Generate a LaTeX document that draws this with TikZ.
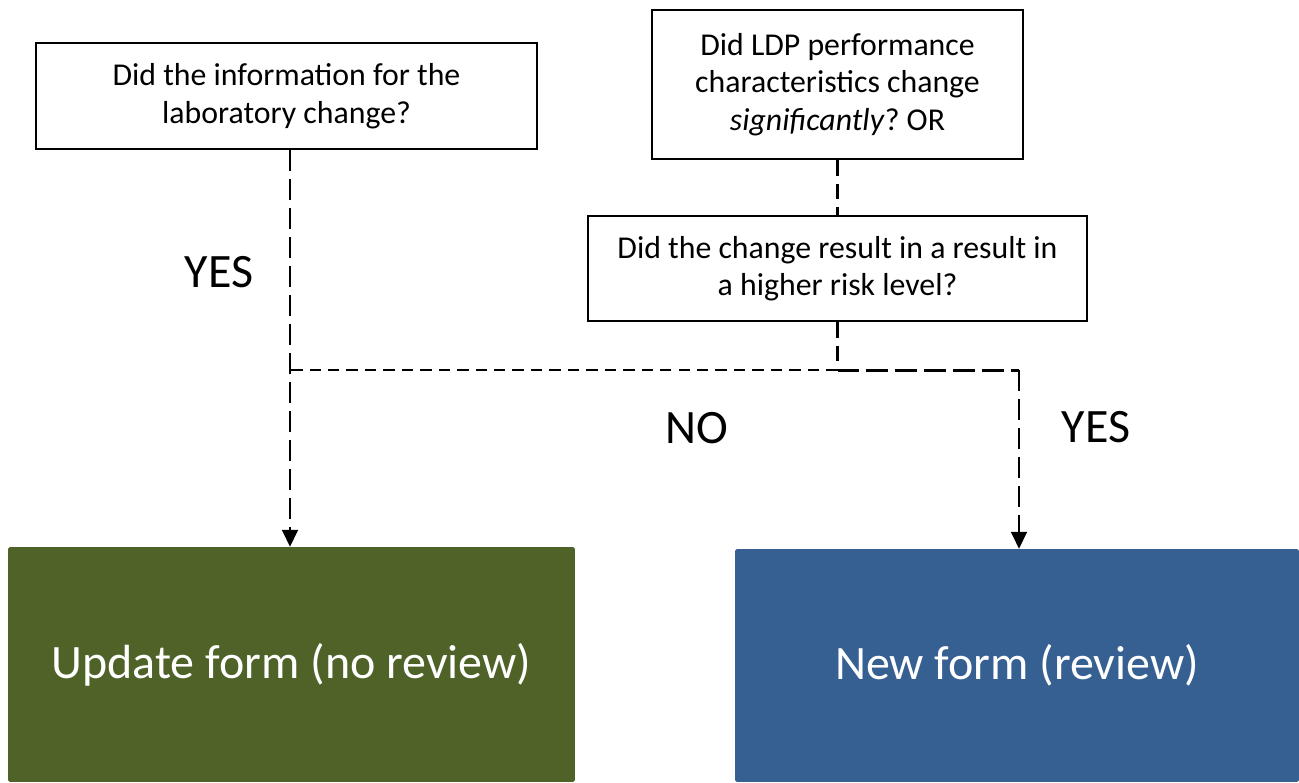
\documentclass[tikz,border=0pt]{standalone}
\usepackage{fontspec}
\setmainfont{Carlito}
\usepackage{tikz}
\usetikzlibrary{positioning,calc,arrows.meta}

\definecolor{updGreen}{HTML}{4F6228}
\definecolor{newBlue}{HTML}{366092}
\frenchspacing

\begin{document}
\begin{tikzpicture}[x=0.02cm,y=-0.02cm,
        question/.style={draw=black,line width=1.1pt,align=center,inner sep=0pt,
            font=\fontsize{18.1}{21.4}\selectfont},
        outcome/.style={fill=#1,draw=none,rounded corners=1pt,inner sep=0pt,
            text=white,font=\fontsize{27.3}{32}\selectfont},
        answer/.style={font=\fontsize{27.3}{32}\selectfont},
        flow/.style={line width=1.2pt,dash pattern=on 12pt off 4.5pt},
        flowfine/.style={line width=1.2pt,dash pattern=on 6.5pt off 4pt},
        tip/.style={-{Triangle[width=9pt,length=9.5pt]}}
    ]
    \useasboundingbox (0,0) rectangle (1299,782);

    % questions
    \node[question,minimum width=10.02cm,minimum height=2.12cm] (qLab) at (286.5,96)
        {Did the information for the\\laboratory change?};
    \node[question,minimum width=7.42cm,minimum height=2.98cm] (qLdp) at (837.5,84.5)
        {Did LDP performance\\characteristics change\\\textit{significantly}? OR};
    \node[question,minimum width=9.98cm,minimum height=2.10cm] (qRisk) at (837.5,268.5)
        {Did the change result in a result in\\a higher risk level?};

    % outcomes
    \node[outcome=updGreen,minimum width=11.34cm,minimum height=4.7cm] (upd) at (291.5,664.5)
        {Update form (no review)};
    \node[outcome=newBlue,minimum width=11.28cm,minimum height=4.66cm] (new) at (1017,665.5)
        {New form (review)};

    % joints
    \coordinate (jMid) at (qRisk.south |- 0,370);
    \coordinate (jLeft) at (290,370);
    \coordinate (jRight) at (1019,370);

    % connectors
    \draw[flow,dash pattern=on 9pt off 4.5pt] (qLdp.south) -- (qRisk.north);
    \draw[flow,dash pattern=on 9pt off 4.5pt] (qRisk.south) -- (jMid);
    \draw[flow,tip] (qLab.south -| jLeft) -- (upd.north -| jLeft);
    \draw[flowfine] (jMid) -- (jLeft);
    \draw[flow,line width=1.7pt] (jMid) -- (jRight);
    \draw[flow,tip] (jRight) -- (new.north -| jRight);

    % answers
    \node[answer] (yesL) at (219,272) {YES};
    \node[answer] (no) at (697,428) {NO};
    \node[answer] (yesR) at (1096,427) {YES};
\end{tikzpicture}
\end{document}
